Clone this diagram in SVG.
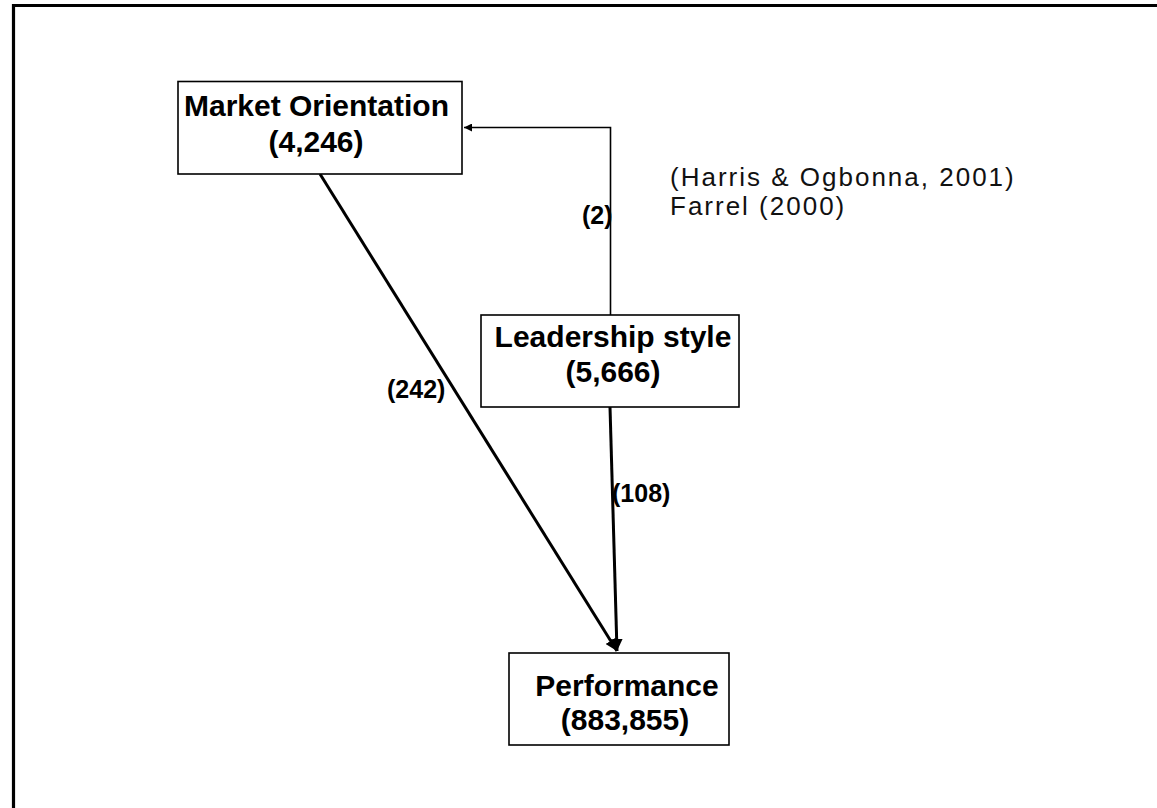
<svg xmlns="http://www.w3.org/2000/svg" width="1157" height="808" viewBox="0 0 1157 808">
  <style>
    .box { fill: #ffffff; stroke: #000000; stroke-width: 1.6; }
    .title { font-family: "Liberation Sans", Arial, sans-serif; font-weight: bold; font-size: 30px; fill: #000000; text-anchor: middle; }
    .label { font-family: "Liberation Sans", Arial, sans-serif; font-weight: bold; font-size: 25px; fill: #000000; }
    .note { font-family: "Liberation Sans", Arial, sans-serif; font-size: 26px; fill: #111111; letter-spacing: 2px; }
    .link { fill: none; stroke: #000000; }
  </style>
  <defs>
    <marker id="headBig" viewBox="0 0 10 10" refX="10" refY="5" markerWidth="4" markerHeight="4" markerUnits="strokeWidth" orient="auto">
      <path d="M0,0 L10,5 L0,10 z" fill="#000000"/>
    </marker>
    <marker id="headSmall" viewBox="0 0 10 10" refX="10" refY="5" markerWidth="6" markerHeight="5" markerUnits="strokeWidth" orient="auto">
      <path d="M0,0 L10,5 L0,10 z" fill="#000000"/>
    </marker>
  </defs>

  <rect width="1157" height="808" fill="#ffffff"/>

  <!-- outer frame: only the left and top edges fall inside the page -->
  <path d="M13.5,810 L13.5,5.5 L1160,5.5" fill="none" stroke="#000000" stroke-width="3.2"/>

  <g id="connectors">
    <!-- Leadership style -> Market Orientation -->
    <path class="link" d="M610.5,315 L610.5,127.5 L464,127.5" stroke-width="1.6" marker-end="url(#headSmall)"/>
    <!-- Market Orientation -> Performance -->
    <path class="link" d="M320,174 L617,651" stroke-width="3" marker-end="url(#headBig)"/>
    <!-- Leadership style -> Performance -->
    <path class="link" d="M610,407 L617,651" stroke-width="3" marker-end="url(#headBig)"/>
    <text class="label" x="387" y="398">(242)</text>
    <text class="label" x="612" y="502">(108)</text>
    <text class="label" x="582" y="224">(2)</text>
    <text class="note" x="670" y="186">(Harris &amp; Ogbonna, 2001)</text>
    <text class="note" x="670" y="215">Farrel (2000)</text>
  </g>

  <g id="market-orientation">
    <rect class="box" x="178" y="81.5" width="284" height="92.5"/>
    <text class="title" x="316.5" y="116">Market Orientation</text>
    <text class="title" x="316" y="152">(4,246)</text>
  </g>

  <g id="leadership-style">
    <rect class="box" x="481" y="315" width="258" height="92"/>
    <text class="title" x="613" y="347">Leadership style</text>
    <text class="title" x="613" y="382">(5,666)</text>
  </g>

  <g id="performance">
    <rect class="box" x="509" y="653" width="220" height="92"/>
    <text class="title" x="627" y="696">Performance</text>
    <text class="title" x="625" y="730">(883,855)</text>
  </g>
</svg>
